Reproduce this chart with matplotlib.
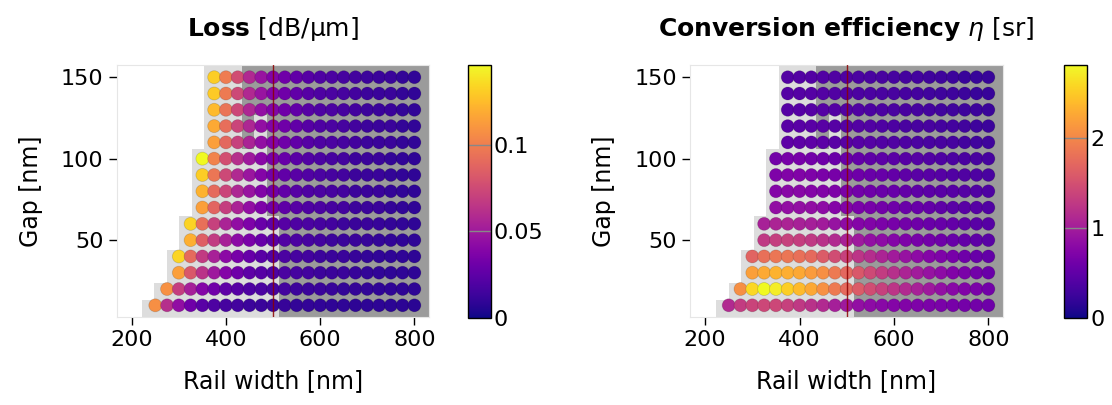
import numpy as np
import matplotlib
matplotlib.use("Agg")
import matplotlib.pyplot as plt
from matplotlib.colors import ListedColormap

# grid of simulated geometries
rail_width = [250, 275, 300, 325, 350, 375, 400, 425, 450, 475, 500, 525,
              550, 575, 600, 625, 650, 675, 700, 725, 750, 775, 800]
gap = [10, 20, 30, 40, 50, 60, 70, 80, 90, 100, 110, 120, 130, 140, 150]

# first valid rail width for each gap, and where the multimode (dark) region starts
row_start = [250, 275, 300, 300, 325, 325, 350, 350, 350, 350, 375, 375, 375, 375, 375]
dark_from = [525, 525, 525, 525, 525, 525, 500, 500, 500, 500, 450, 450, 450, 450, 450]
light_cells = [(475, 110), (475, 120)]
design_width = 500

# loss [dB/um], one list per gap, starting at row_start
loss = [
    [0.107, 0.061, 0.044, 0.031, 0.023, 0.019, 0.016, 0.015, 0.013, 0.012, 0.012, 0.011,
     0.010, 0.010, 0.0095, 0.009, 0.009, 0.0085, 0.008, 0.008, 0.0075, 0.0075, 0.007],
    [0.108, 0.069, 0.053, 0.039, 0.031, 0.025, 0.022, 0.019, 0.018, 0.016, 0.015, 0.013,
     0.012, 0.012, 0.011, 0.010, 0.010, 0.0095, 0.009, 0.009, 0.008, 0.008],
    [0.114, 0.082, 0.063, 0.050, 0.039, 0.031, 0.025, 0.022, 0.019, 0.018, 0.016, 0.015,
     0.013, 0.012, 0.012, 0.011, 0.010, 0.0095, 0.009, 0.009, 0.008],
    [0.134, 0.091, 0.067, 0.054, 0.042, 0.034, 0.028, 0.023, 0.020, 0.018, 0.016, 0.015,
     0.013, 0.012, 0.012, 0.011, 0.010, 0.0095, 0.009, 0.009, 0.008],
    [0.120, 0.085, 0.067, 0.054, 0.042, 0.035, 0.028, 0.023, 0.020, 0.018, 0.016, 0.015,
     0.013, 0.012, 0.012, 0.011, 0.010, 0.0095, 0.009, 0.009],
    [0.133, 0.093, 0.070, 0.055, 0.044, 0.037, 0.029, 0.025, 0.022, 0.019, 0.018, 0.016,
     0.015, 0.013, 0.012, 0.012, 0.011, 0.010, 0.0095, 0.009],
    [0.114, 0.088, 0.069, 0.055, 0.045, 0.037, 0.031, 0.025, 0.022, 0.019, 0.018, 0.016,
     0.015, 0.013, 0.012, 0.012, 0.010, 0.0095, 0.009],
    [0.121, 0.091, 0.072, 0.057, 0.047, 0.038, 0.031, 0.026, 0.022, 0.019, 0.018, 0.016,
     0.015, 0.013, 0.012, 0.012, 0.010, 0.0095, 0.009],
    [0.131, 0.096, 0.074, 0.058, 0.048, 0.039, 0.032, 0.026, 0.023, 0.020, 0.018, 0.016,
     0.015, 0.013, 0.012, 0.012, 0.010, 0.0095, 0.009],
    [0.146, 0.102, 0.077, 0.061, 0.050, 0.041, 0.034, 0.028, 0.023, 0.020, 0.018, 0.016,
     0.015, 0.013, 0.012, 0.012, 0.010, 0.0095, 0.009],
    [0.114, 0.089, 0.070, 0.055, 0.045, 0.038, 0.031, 0.026, 0.022, 0.019, 0.018, 0.016,
     0.015, 0.013, 0.012, 0.012, 0.010, 0.0095],
    [0.118, 0.092, 0.072, 0.057, 0.045, 0.038, 0.031, 0.026, 0.022, 0.019, 0.018, 0.016,
     0.015, 0.013, 0.012, 0.012, 0.010, 0.0095],
    [0.124, 0.095, 0.073, 0.057, 0.045, 0.038, 0.031, 0.026, 0.022, 0.019, 0.018, 0.016,
     0.015, 0.013, 0.012, 0.012, 0.010, 0.0095],
    [0.130, 0.098, 0.074, 0.058, 0.047, 0.038, 0.031, 0.026, 0.022, 0.019, 0.018, 0.016,
     0.015, 0.013, 0.012, 0.012, 0.010, 0.0095],
    [0.131, 0.099, 0.076, 0.058, 0.047, 0.038, 0.031, 0.026, 0.022, 0.019, 0.018, 0.016,
     0.015, 0.013, 0.012, 0.012, 0.010, 0.0095],
]

# conversion efficiency eta [sr]
eta = [
    [1.13, 1.30, 1.38, 1.41, 1.41, 1.35, 1.27, 1.21, 1.13, 1.02, 0.96, 0.87,
     0.82, 0.79, 0.76, 0.73, 0.71, 0.69, 0.68, 0.65, 0.63, 0.62, 0.59],
    [2.06, 2.59, 2.82, 2.74, 2.54, 2.40, 2.26, 2.09, 1.89, 1.75, 1.61, 1.47,
     1.35, 1.24, 1.13, 1.04, 0.96, 0.87, 0.79, 0.73, 0.68, 0.62],
    [2.20, 2.28, 2.34, 2.31, 2.26, 2.17, 2.06, 1.89, 1.72, 1.58, 1.44, 1.30,
     1.18, 1.07, 0.99, 0.90, 0.82, 0.73, 0.68, 0.62, 0.56],
    [1.69, 1.80, 1.86, 1.86, 1.80, 1.75, 1.61, 1.47, 1.35, 1.24, 1.16, 1.07,
     0.99, 0.90, 0.82, 0.76, 0.71, 0.65, 0.59, 0.54, 0.51],
    [1.27, 1.33, 1.35, 1.33, 1.27, 1.21, 1.13, 1.04, 0.96, 0.87, 0.82, 0.76,
     0.71, 0.66, 0.62, 0.59, 0.54, 0.51, 0.48, 0.45],
    [1.04, 1.07, 1.07, 1.04, 1.02, 0.99, 0.90, 0.82, 0.76, 0.73, 0.69, 0.65,
     0.62, 0.59, 0.56, 0.54, 0.51, 0.48, 0.45, 0.42],
    [0.85, 0.87, 0.87, 0.85, 0.82, 0.76, 0.73, 0.68, 0.65, 0.62, 0.59, 0.56,
     0.54, 0.51, 0.48, 0.45, 0.44, 0.42, 0.39],
    [0.76, 0.79, 0.79, 0.76, 0.73, 0.71, 0.68, 0.62, 0.59, 0.56, 0.54, 0.51,
     0.48, 0.47, 0.45, 0.42, 0.41, 0.39, 0.37],
    [0.71, 0.73, 0.73, 0.71, 0.68, 0.65, 0.62, 0.59, 0.56, 0.54, 0.51, 0.48,
     0.45, 0.44, 0.42, 0.39, 0.38, 0.37, 0.34],
    [0.62, 0.65, 0.65, 0.62, 0.59, 0.56, 0.54, 0.51, 0.48, 0.47, 0.45, 0.42,
     0.41, 0.39, 0.37, 0.35, 0.34, 0.32, 0.31],
    [0.48, 0.48, 0.48, 0.47, 0.45, 0.44, 0.42, 0.41, 0.39, 0.38, 0.37, 0.35,
     0.34, 0.32, 0.31, 0.29, 0.28, 0.27],
    [0.45, 0.45, 0.45, 0.44, 0.42, 0.41, 0.40, 0.39, 0.37, 0.36, 0.34, 0.33,
     0.32, 0.30, 0.29, 0.28, 0.26, 0.25],
    [0.42, 0.42, 0.42, 0.41, 0.40, 0.39, 0.38, 0.36, 0.35, 0.34, 0.32, 0.31,
     0.30, 0.28, 0.27, 0.26, 0.25, 0.24],
    [0.41, 0.41, 0.41, 0.40, 0.39, 0.38, 0.36, 0.35, 0.34, 0.32, 0.31, 0.30,
     0.28, 0.27, 0.26, 0.25, 0.23, 0.22],
    [0.40, 0.40, 0.40, 0.39, 0.38, 0.37, 0.35, 0.34, 0.33, 0.31, 0.30, 0.29,
     0.27, 0.26, 0.25, 0.23, 0.22, 0.21],
]

loss_ticks = [0, 0.05, 0.1]
loss_ticklabels = ["0", "0.05", "0.1"]
eta_ticks = [0, 1, 2]
eta_ticklabels = ["0", "1", "2"]

plt.rcParams["font.family"] = "DejaVu Sans"
plt.rcParams["font.size"] = 16


def flatten(rows):
    xs, ys, cs = [], [], []
    for i, row in enumerate(rows):
        j0 = rail_width.index(row_start[i])
        for k, v in enumerate(row):
            xs.append(rail_width[j0 + k])
            ys.append(gap[i])
            cs.append(v)
    return np.array(xs), np.array(ys), np.array(cs)


# background: white = not simulated, light = valid, dark = multimode
mask = np.zeros((len(gap), len(rail_width)))
for i, g in enumerate(gap):
    for j, w in enumerate(rail_width):
        if w >= row_start[i]:
            mask[i, j] = 1
        if w >= dark_from[i] and (w, g) not in light_cells:
            mask[i, j] = 2
bg_cmap = ListedColormap(["white", "#dddddd", "#9b9b9b"])
extent = (rail_width[0] - 27.5, rail_width[-1] + 31, gap[0] - 7, gap[-1] + 7.5)

fig = plt.figure(figsize=(11.12, 4.05), dpi=100)
ax1 = fig.add_axes([0.1049, 0.218, 0.2809, 0.6215])
cax1 = fig.add_axes([0.4206, 0.2155, 0.0207, 0.624])
ax2 = fig.add_axes([0.6205, 0.218, 0.2815, 0.6215])
cax2 = fig.add_axes([0.9571, 0.2155, 0.0207, 0.624])

panels = [
    (ax1, cax1, loss, r"$\mathbf{Loss}$ [dB/μm]", loss_ticks, loss_ticklabels),
    (ax2, cax2, eta, r"$\mathbf{Conversion\ efficiency}$ $\eta$ [sr]", eta_ticks, eta_ticklabels),
]

for ax, cax, rows, title, ticks, ticklabels in panels:
    ax.imshow(mask, origin="lower", extent=extent, aspect="auto", cmap=bg_cmap,
              vmin=0, vmax=2, interpolation="nearest", zorder=0)
    x, y, c = flatten(rows)
    sc = ax.scatter(x, y, c=c, cmap="plasma", vmin=0, vmax=c.max(), s=88,
                    edgecolors=(0, 0, 0, 0.15), linewidths=0.6, zorder=2)
    ax.axvline(design_width, color="#8b0000", lw=1, alpha=0.85, zorder=3)
    ax.set_xlim(168, extent[1])
    ax.set_ylim(extent[2], extent[3])
    ax.set_xticks([200, 400, 600, 800])
    ax.set_yticks([50, 100, 150])
    ax.tick_params(direction="out", length=6, width=1, color="black", labelsize=16)
    for sp in ax.spines.values():
        sp.set_color("#e6e6e6")
        sp.set_linewidth(0.8)
    ax.set_xlabel("Rail width [nm]", fontsize=17, labelpad=14)
    ax.set_ylabel("Gap [nm]", fontsize=17, labelpad=13)
    ax.set_title(title, fontsize=18, pad=21)

    cb = fig.colorbar(sc, cax=cax)
    cb.outline.set_linewidth(1)
    cb.outline.set_edgecolor("black")
    cb.set_ticks(ticks)
    cb.set_ticklabels(ticklabels)
    cax.tick_params(length=0, labelsize=16, pad=2)
    for t in ticks[1:]:
        cax.axhline(t, color="#888888", lw=1)

fig.savefig("out.png", dpi=100)
